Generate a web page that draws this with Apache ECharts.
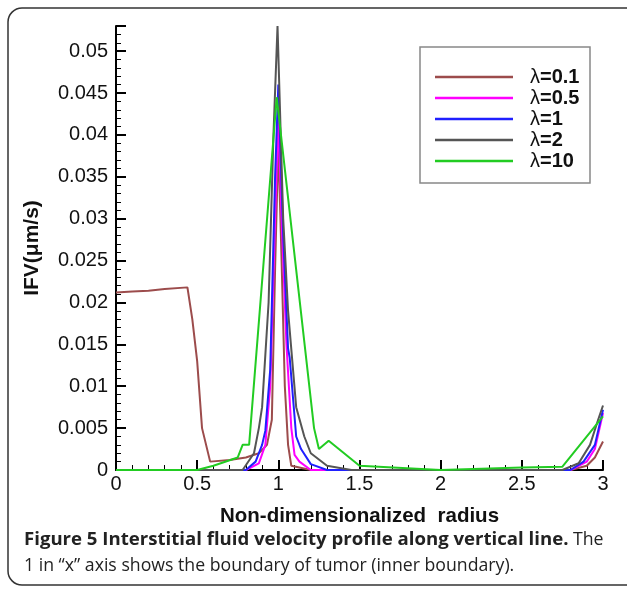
<!DOCTYPE html>
<html><head><meta charset="utf-8">
<script src="https://cdn.jsdelivr.net/npm/echarts@6/dist/echarts.min.js"></script>
<style>html,body{margin:0;padding:0;background:#fff}#c{width:627px;height:589px}</style>
</head><body><div id="c"></div>
<script>
const seriesNames = ['λ=0.1','λ=0.5','λ=1','λ=2','λ=10'];
const colors = ['#9c4c4c','#ff00ff','#2020ff','#555555','#22cc22'];
const xTicks = [0,0.5,1,1.5,2,2.5,3];

const x01 = [0,0.1,0.2,0.3,0.44,0.47,0.5,0.53,0.58,0.7,0.8,0.88,0.93,0.96,0.98,1.0,1.02,1.04,1.06,1.08,1.2,2.0,2.8,2.9,2.95,3.0];
const y01 = [0.0212,0.0213,0.0214,0.0216,0.0218,0.018,0.013,0.005,0.001,0.0012,0.0015,0.002,0.003,0.006,0.024,0.039,0.025,0.01,0.003,0.0005,0,0,0,0.0005,0.0015,0.0034];

const x05 = [0,0.8,0.88,0.92,0.95,0.98,1.0,1.02,1.05,1.08,1.1,1.13,1.2,2.0,2.8,2.9,2.95,3.0];
const y05 = [0,0,0.0008,0.003,0.01,0.03,0.042,0.03,0.015,0.005,0.0018,0.001,0,0,0,0.001,0.0025,0.0068];

const x1 = [0,0.8,0.86,0.9,0.92,0.95,0.98,1.0,1.03,1.06,1.07,1.11,1.14,1.2,1.3,2.0,2.8,2.88,2.95,3.0];
const y1 = [0,0,0.001,0.003,0.0047,0.012,0.035,0.046,0.028,0.0145,0.0134,0.004,0.0025,0.0007,0,0,0,0.001,0.003,0.0072];

const x2 = [0,0.78,0.85,0.88,0.9,0.94,0.97,0.995,1.03,1.06,1.11,1.16,1.2,1.3,1.45,2.0,2.75,2.85,2.92,2.97,3.0];
const y2 = [0,0,0.002,0.005,0.0075,0.02,0.04,0.053,0.03,0.019,0.0075,0.004,0.002,0.0005,0,0,0,0.0008,0.003,0.006,0.0077];

const x10 = [0,0.5,0.6,0.75,0.78,0.82,0.99,1.22,1.25,1.31,1.5,2.0,2.5,2.75,3.0];
const y10 = [0,0,0.0005,0.0015,0.003,0.003,0.0445,0.005,0.0025,0.0035,0.0005,0,0.0003,0.0004,0.0064];

const xs = [x01,x05,x1,x2,x10];
const ys = [y01,y05,y1,y2,y10];

const chart = echarts.init(document.getElementById('c'));
const F = 'Liberation Sans, Arial, sans-serif';
chart.setOption({
  animation:false,
  grid:{left:116,right:24,top:26,bottom:119},
  xAxis:{type:'value',min:0,max:3,interval:0.5,
    axisLine:{onZero:false,lineStyle:{color:'#000',width:2}},
    axisTick:{inside:true,length:10,lineStyle:{color:'#000',width:2}},
    minorTick:{show:true,splitNumber:5,length:5,lineStyle:{color:'#000',width:1}},
    splitLine:{show:false},
    axisLabel:{color:'#111',fontSize:20,fontFamily:F,margin:4,formatter:v=>String(v)},
    name:'Non-dimensionalized  radius',nameLocation:'middle',nameGap:36,
    nameTextStyle:{color:'#111',fontSize:20.5,fontWeight:'bold',fontFamily:F}},
  yAxis:{type:'value',min:0,max:0.053,interval:0.005,
    axisLine:{lineStyle:{color:'#000',width:2}},
    axisTick:{inside:true,length:10,lineStyle:{color:'#000',width:2}},
    minorTick:{show:true,splitNumber:5,length:5,lineStyle:{color:'#000',width:1}},
    splitLine:{show:false},
    axisLabel:{color:'#111',fontSize:20,fontFamily:F,margin:8,showMaxLabel:false},
    name:'IFV(μm/s)',nameLocation:'middle',nameGap:73,
    nameTextStyle:{color:'#111',fontSize:21,fontWeight:'bold',fontFamily:F}},
  legend:{orient:'vertical',left:435,top:67,padding:0,itemWidth:78,itemHeight:2.5,itemGap:1,
    icon:'rect',
    data:seriesNames,
    formatter:n=>'{l|λ}{b|'+n.slice(1)+'}',
    textStyle:{padding:[0,0,0,12],rich:{l:{fontSize:20,lineHeight:20,fontFamily:F,color:'#111'},b:{fontSize:20,lineHeight:20,fontWeight:'bold',fontFamily:F,color:'#111'}}}},
  graphic:[
    {type:'rect',shape:{x:8,y:8,width:640,height:577,r:14},style:{fill:'none',stroke:'#333',lineWidth:1.5},silent:true},
    {type:'rect',shape:{x:420,y:47,width:170,height:136},style:{fill:'none',stroke:'#888',lineWidth:1.5},silent:true},
    {type:'text',style:{x:24,y:540,verticalAlign:'middle',text:'{b|Figure 5 Interstitial fluid velocity profile along vertical line.}{r| The}',
      rich:{b:{fontSize:18.6,fontWeight:'bold',fontFamily:'Open Sans',fill:'#222'},r:{fontSize:17.7,fontFamily:'Open Sans',fill:'#222'}}}},
    {type:'text',style:{x:24,y:566,verticalAlign:'middle',text:'1 in “x” axis shows the boundary of tumor (inner boundary).',fontSize:17.7,fontFamily:'Open Sans',fill:'#222'}}
  ],
  series:seriesNames.map((n,i)=>({name:n,type:'line',showSymbol:false,symbol:'none',
    lineStyle:{color:colors[i],width:2},itemStyle:{color:colors[i]},
    data:xs[i].map((x,j)=>[x,ys[i][j]])}))
});
</script></body></html>
